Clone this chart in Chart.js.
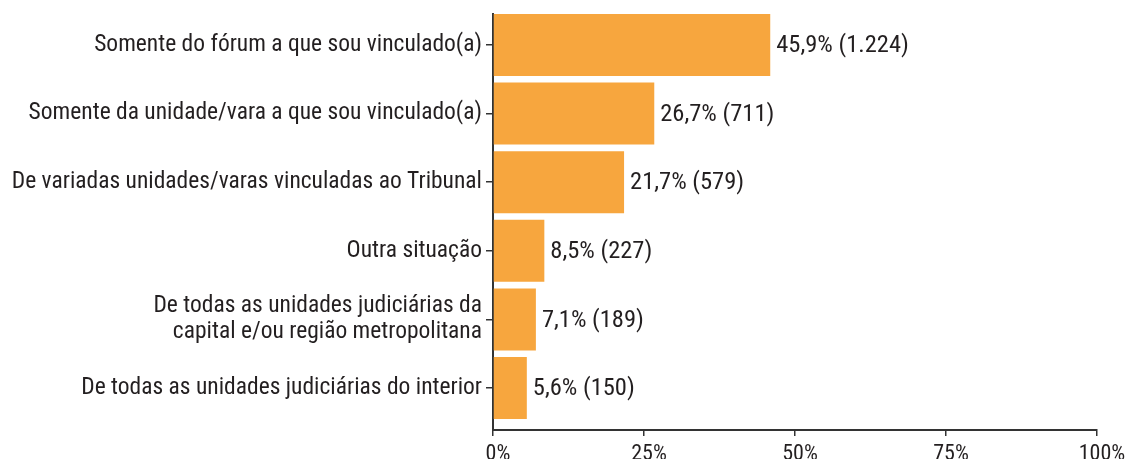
<!DOCTYPE html>
<html lang="pt">
<head>
    <meta charset="UTF-8">
    <title>Situação</title>
    <style>
        body {
            margin: 0;
            padding: 0;
            background-color: #ffffff;
            overflow: hidden;
        }
        #chartBox {
            width: 1126px;
            height: 459px;
        }
    </style>
</head>
<body>
    <div id="chartBox"><canvas id="chartContainer"></canvas></div>

    <script src="https://cdn.jsdelivr.net/npm/chart.js"></script>
    <script>
        // Categories (top to bottom)
        const categories = [
            'Somente do fórum a que sou vinculado(a)',
            'Somente da unidade/vara a que sou vinculado(a)',
            'De variadas unidades/varas vinculadas ao Tribunal',
            'Outra situação',
            ['De todas as unidades judiciárias da', 'capital e/ou região metropolitana'],
            'De todas as unidades judiciárias do interior'
        ];
        // Percent values
        const percentValues = [45.9, 26.7, 21.7, 8.5, 7.1, 5.6];
        // Absolute counts
        const counts = ['1.224', '711', '579', '227', '189', '150'];
        // X axis tick labels
        const tickValues = [0, 25, 50, 75, 100];

        const fontFamily = "'Liberation Sans Narrow', 'Roboto Condensed', Roboto, sans-serif";
        const textColor = '#231f20';
        const axisColor = '#333333';

        // Draws "45,9% (1.224)" just past the end of each bar
        const valueLabels = {
            id: 'valueLabels',
            afterDatasetsDraw(chart) {
                const ctx = chart.ctx;
                const meta = chart.getDatasetMeta(0);
                ctx.save();
                ctx.font = '24.5px ' + fontFamily;
                ctx.fillStyle = textColor;
                ctx.textAlign = 'left';
                ctx.textBaseline = 'middle';
                meta.data.forEach((bar, i) => {
                    const pct = percentValues[i].toFixed(1).replace('.', ',');
                    ctx.fillText(pct + '% (' + counts[i] + ')', bar.x + 6, bar.y + 1);
                });
                ctx.restore();
            }
        };

        // bars sit on a numeric index axis so the top/bottom gaps can differ
        const points = percentValues.map((v, i) => ({ x: v, y: i }));

        const ctx = document.getElementById('chartContainer').getContext('2d');
        new Chart(ctx, {
            type: 'bar',
            data: {
                datasets: [{
                    data: points,
                    backgroundColor: '#f7a63e',
                    barPercentage: 0.904,
                    categoryPercentage: 1.0
                }]
            },
            options: {
                indexAxis: 'y',
                responsive: true,
                maintainAspectRatio: false,
                animation: false,
                layout: {
                    padding: { top: 14, right: 29, left: 0, bottom: 0 }
                },
                plugins: {
                    legend: { display: false },
                    tooltip: { enabled: false }
                },
                scales: {
                    x: {
                        type: 'linear',
                        min: 0,
                        max: 100,
                        afterBuildTicks(scale) {
                            scale.ticks = tickValues.map(v => ({ value: v }));
                        },
                        afterFit(scale) {
                            scale.height = 29;
                            scale.paddingLeft = 0;
                            scale.paddingRight = 0;
                        },
                        grid: {
                            display: true,
                            drawOnChartArea: false,
                            drawTicks: true,
                            tickLength: 6,
                            color: axisColor,
                            lineWidth: 1.5
                        },
                        border: { display: true, color: axisColor, width: 2 },
                        ticks: {
                            padding: 5,
                            labelOffset: 5,
                            color: textColor,
                            font: { family: fontFamily, size: 22 },
                            callback: v => v + '%'
                        }
                    },
                    y: {
                        type: 'linear',
                        reverse: true,
                        offset: false,
                        min: -0.452,
                        max: 5.612,
                        afterBuildTicks(scale) {
                            scale.ticks = categories.map((c, i) => ({ value: i }));
                        },
                        afterFit(scale) {
                            scale.width = 493;
                            scale.paddingTop = 0;
                            scale.paddingBottom = 0;
                        },
                        grid: {
                            display: true,
                            offset: false,
                            drawOnChartArea: false,
                            drawTicks: true,
                            tickLength: 7,
                            color: axisColor,
                            lineWidth: 1.5
                        },
                        border: { display: true, color: axisColor, width: 2 },
                        ticks: {
                            padding: 4,
                            color: textColor,
                            font: { family: fontFamily, size: 23.5, lineHeight: 1.12 },
                            callback: v => categories[v]
                        }
                    }
                }
            },
            plugins: [valueLabels]
        });
    </script>
</body>
</html>
